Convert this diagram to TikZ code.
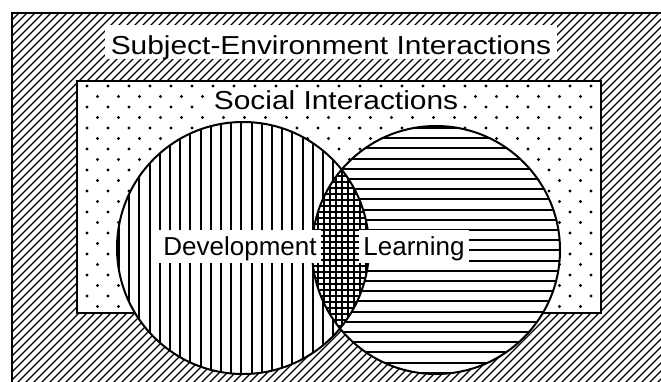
\documentclass[tikz,border=0pt]{standalone}
\usepackage{fontspec}
\setmainfont{Liberation Sans}
\newfontfamily\widefont[FakeStretch=1.15]{Liberation Sans}

\begin{document}
\begin{tikzpicture}
  [x=1pt,y=-1pt,
   every node/.style={fill=white,inner ysep=0pt,inner xsep=4pt,anchor=base,
     font=\fontsize{26}{30}\selectfont},
   wide/.style={font=\fontsize{26}{30}\widefont},
   hatch/.style={line width=1.3},
   rim/.style={line width=2}]
  \useasboundingbox (0,0) rectangle (661,381);
  \clip (0,0) rectangle (661,381);
  \coordinate (cd) at (243,248);
  \coordinate (cl) at (436,250);

  % subject-environment frame
  \begin{scope}
    \clip (12,13) rectangle (680,400);
    \foreach \k in {-384,-376,...,656}
      \draw[hatch] (\k,400) -- ++(400,-400);
  \end{scope}
  \draw[line width=2.5] (12,400) -- (12,13) -- (680,13);

  % social interactions
  \fill[white] (77,81) rectangle (601,313);
  \begin{scope}
    \clip (77,81) rectangle (601,313);
    \foreach \r in {0,...,21}
      \foreach \c in {-1,...,25}
        \fill ({87+21*\c+10.5*mod(\r,2)},{86+10.5*\r}) circle (1.7);
  \end{scope}
  \draw[rim] (77,81) rectangle (601,313);

  % development
  \fill[white] (cd) circle (126);
  \begin{scope}
    \clip (cd) circle (126);
    \foreach \x in {119,129.2,...,372}
      \draw[rim] (\x,115) -- (\x,380);
  \end{scope}

  % learning
  \fill[white] (cl) circle (124);
  \begin{scope}
    \clip (cl) circle (124);
    \foreach \y in {128,138.2,...,378}
      \draw[rim] (305,\y) -- (565,\y);
  \end{scope}

  % overlap
  \begin{scope}
    \clip (cd) circle (126);
    \clip (cl) circle (124);
    \fill[white] (300,110) rectangle (380,380);
    \foreach \k in {300,306,...,380}
      \draw[line width=1.5] (\k,110) -- (\k,380);
    \foreach \k in {110,116,...,380}
      \draw[line width=1.5] (300,\k) -- (380,\k);
  \end{scope}

  \draw[rim] (cd) circle (126);
  \draw[rim] (cl) circle (124);

  \node[wide,text height=29pt,text depth=5pt,inner xsep=6pt] (sei) at (331,54) {Subject-Environment Interactions};
  \node[wide,text height=20pt,text depth=4pt,inner xsep=3pt] (soc) at (336,109) {Social Interactions};
  \node[text height=25pt,text depth=8pt] (dev) at (240,255) {Development};
  \node[text height=25pt,text depth=8pt] (lrn) at (414,255) {Learning};
\end{tikzpicture}
\end{document}
